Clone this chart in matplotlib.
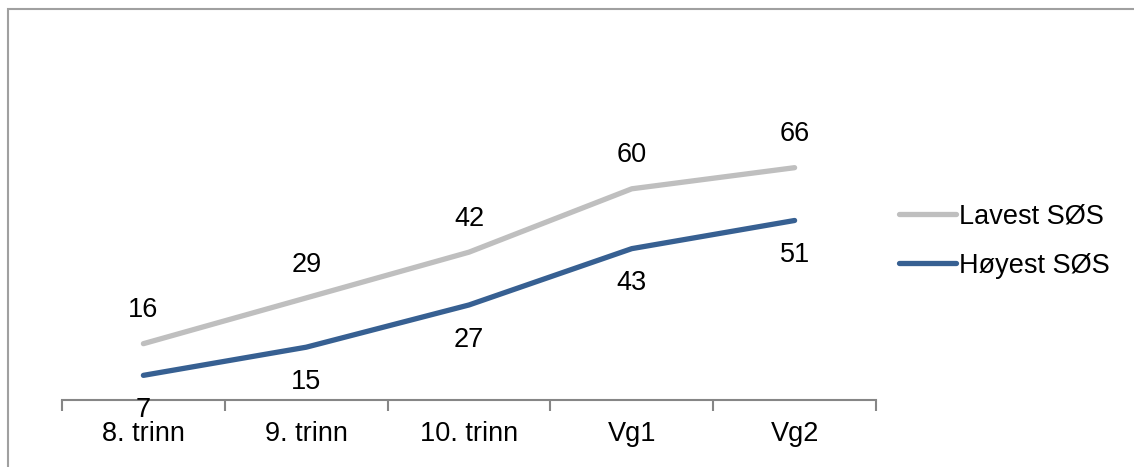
import matplotlib.pyplot as plt
from matplotlib.patches import Rectangle

plt.rcParams['font.family'] = ['Liberation Sans', 'DejaVu Sans']

categories = ['8. trinn', '9. trinn', '10. trinn', 'Vg1', 'Vg2']
lavest = [16, 29, 42, 60, 66]
hoyest = [7, 15, 27, 43, 51]
series_names = ['Lavest SØS', 'Høyest SØS']

grey = '#bfbfbf'
blue = '#376092'
axis_col = '#868686'
fs = 19.5

fig = plt.figure(figsize=(11.34, 4.67), dpi=100)
ax = fig.add_axes([62 / 1134, 67 / 467, 814 / 1134, 352 / 467])

x = range(len(categories))
ax.plot(x, lavest, color=grey, lw=3.8, solid_capstyle='round', label=series_names[0])
ax.plot(x, hoyest, color=blue, lw=3.8, solid_capstyle='round', label=series_names[1])

# data labels: above the grey line, below the blue one
for i, v in enumerate(lavest):
    ax.annotate(str(v), (i, v), xytext=(0, 24), textcoords='offset points',
                ha='center', va='center', fontsize=fs)
for i, v in enumerate(hoyest):
    ax.annotate(str(v), (i, v), xytext=(0, -25), textcoords='offset points',
                ha='center', va='center', fontsize=fs)

ax.set_xlim(-0.5, len(categories) - 0.5)
ax.set_ylim(0, 100)

# category boundaries get the tick marks, labels sit in between
ax.set_xticks([i - 0.5 for i in range(len(categories) + 1)])
ax.set_xticklabels([])
ax.set_xticks(list(x), minor=True)
ax.set_xticklabels(categories, minor=True, fontsize=fs)
ax.tick_params(axis='x', which='major', length=8, width=1.5, color=axis_col, direction='out')
ax.tick_params(axis='x', which='minor', length=0, pad=15)
ax.set_yticks([])

for s in ['top', 'right', 'left']:
    ax.spines[s].set_visible(False)
ax.spines['bottom'].set_color(axis_col)
ax.spines['bottom'].set_linewidth(1.5)

ax.legend(loc='center left', bbox_to_anchor=(899 / 1134, (467 - 241) / 467), bbox_transform=fig.transFigure,
          frameon=False, fontsize=fs, handlelength=2.1, handletextpad=0.1, labelspacing=0.85,
          borderpad=0, borderaxespad=0)

# outer chart frame
fig.patches.append(Rectangle((8 / 1134, -0.1), 1.2, (458 / 467) + 0.1, transform=fig.transFigure,
                             fill=False, edgecolor='#a0a0a0', lw=1.5))

fig.savefig('out.png', dpi=100)
